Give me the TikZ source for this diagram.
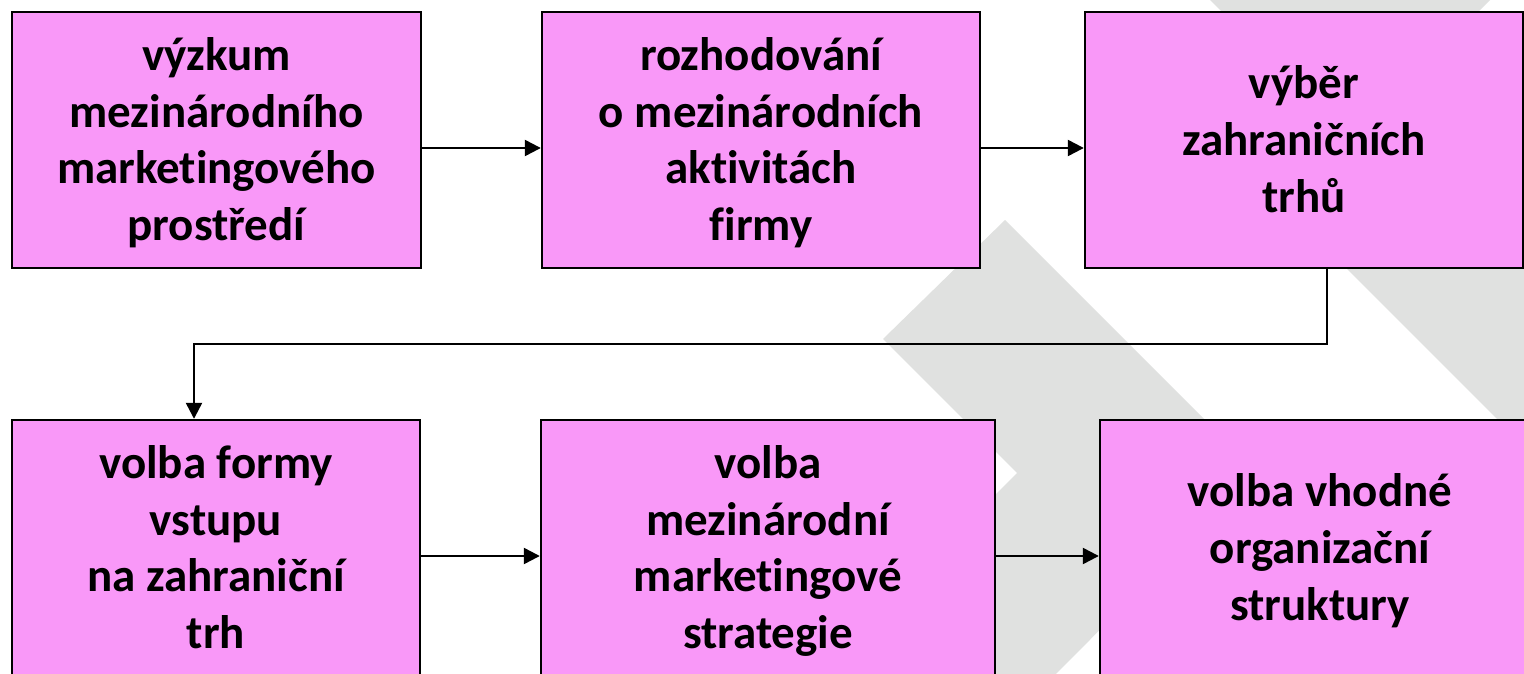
\documentclass[tikz,border=0pt]{standalone}
\usepackage{fontspec}
\setmainfont{Carlito}[Ligatures=NoCommon]
\usetikzlibrary{arrows.meta}
\definecolor{boxpink}{RGB}{249,152,248}
\definecolor{markgray}{RGB}{224,225,224}
% fixed line box so every text line sits on a 56.7pt grid
\newcommand\boxstrut{\rule[-12.9pt]{0pt}{56.7pt}}
\begin{document}
\begin{tikzpicture}[x=1pt,y=-1pt,
  stage/.style={draw=black, line width=2.4pt, fill=boxpink, inner sep=0pt,
    align=center, minimum height=256pt,
    font=\fontsize{47}{56.7}\selectfont\bfseries},
  flow/.style={line width=2.4pt, -{Triangle[length=16pt,width=16pt]}},
  wmark/.style={fill=markgray, draw=none}]
\useasboundingbox (0,0) rectangle (1524,674);
\clip (0,0) rectangle (1524,674);
\fill[white] (0,0) rectangle (1524,674);

% background chevron watermark
\fill[wmark] (883,339) -- (1005,220) -- (1257,472) -- (1030,700)
  -- (790,700) -- (1017,473) -- cycle;
\fill[wmark] (1100,22) -- (1600,22) -- (1600,522) -- cycle;
\fill[wmark] (1190,-20) -- (1510,-20) -- (1350,140) -- cycle;

% process steps
\node[stage, minimum width=409pt] (b1) at (216.5,140)
  {\boxstrut výzkum\\\boxstrut mezinárodního\\\boxstrut marketingového\\\boxstrut prostředí};
\node[stage, minimum width=438pt] (b2) at (761,140)
  {\boxstrut rozhodování\\\boxstrut o mezinárodních\\\boxstrut aktivitách\\\boxstrut firmy};
\node[stage, minimum width=438pt] (b3) at (1304,140)
  {\boxstrut výběr\\\boxstrut zahraničních\\\boxstrut trhů};
\node[stage, minimum width=408pt] (b4) at (216,548)
  {\boxstrut volba formy\\\boxstrut vstupu\\\boxstrut na zahraniční\\\boxstrut trh};
\node[stage, minimum width=454pt] (b5) at (768,548)
  {\boxstrut volba\\\boxstrut mezinárodní\\\boxstrut marketingové\\\boxstrut strategie};
\node[stage, minimum width=440pt] (b6) at (1320,548)
  {\boxstrut volba vhodné\\\boxstrut organizační\\\boxstrut struktury};

% connectors
\coordinate (rowA) at (0,148);
\coordinate (rowB) at (0,556);
\coordinate (elbowR) at (1327,344);
\coordinate (elbowL) at (194,344);
\draw[flow] (b1.east |- rowA) -- (b2.west |- rowA);
\draw[flow] (b2.east |- rowA) -- (b3.west |- rowA);
\draw[flow] (b3.south -| elbowR) -- (elbowR) -- (elbowL) -- (b4.north -| elbowL);
\draw[flow] (b4.east |- rowB) -- (b5.west |- rowB);
\draw[flow] (b5.east |- rowB) -- (b6.west |- rowB);
\end{tikzpicture}
\end{document}
